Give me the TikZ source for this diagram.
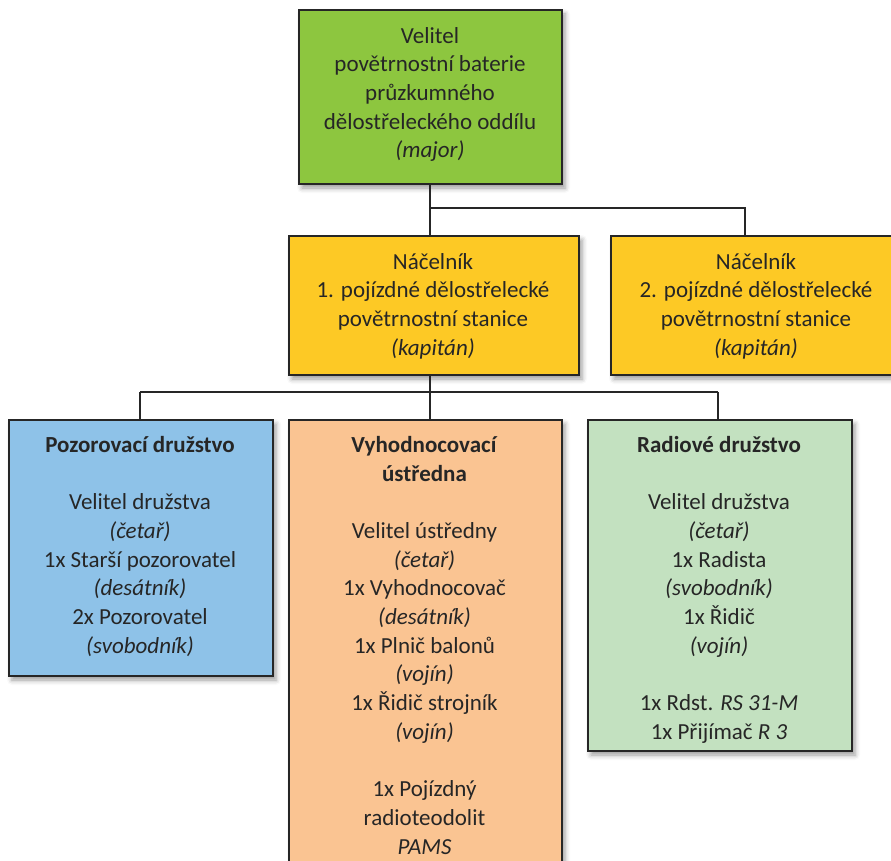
\documentclass[tikz,border=0pt]{standalone}
\usepackage{fontspec}
\setmainfont{Carlito}
\usetikzlibrary{shadows.blur}

\definecolor{ink}{HTML}{262626}
\definecolor{cmdgreen}{HTML}{8DC63F}
\definecolor{staffyellow}{HTML}{FDC925}
\definecolor{obsblue}{HTML}{8EC2E8}
\definecolor{evalpeach}{HTML}{FAC492}
\definecolor{radiogreen}{HTML}{C3E1C0}

\begin{document}
\begin{tikzpicture}[x=1pt,y=-1pt,
  unitbox/.style={draw=ink, line width=2pt, rectangle, inner sep=0pt,
    anchor=north west,
    blur shadow={shadow xshift=3pt, shadow yshift=-4pt,
      shadow blur radius=5pt, shadow opacity=40}},
  boxtext/.style={anchor=north, align=center, text=ink, inner sep=0pt,
    font=\fontsize{23}{28.7}\selectfont, execute at begin node=\strut},
  wire/.style={draw=ink, line width=1.8pt}]
\useasboundingbox (0,0) rectangle (891,861);

% junction points of the connector tree
\coordinate (j1) at (430,208);
\coordinate (j1r) at (745,208);
\coordinate (j2) at (430,392);
\coordinate (j2l) at (140,392);
\coordinate (j2r) at (718,392);

% boxes
\node[unitbox, fill=cmdgreen, minimum width=263pt, minimum height=174pt] (cmd) at (298,9) {};
\node[unitbox, fill=staffyellow, minimum width=290pt, minimum height=139pt] (st1) at (288,235) {};
\node[unitbox, fill=staffyellow, minimum width=290pt, minimum height=139pt] (st2) at (610,235) {};
\node[unitbox, fill=obsblue, minimum width=264pt, minimum height=256pt] (obs) at (8,419) {};
\node[unitbox, fill=evalpeach, minimum width=273pt, minimum height=470pt] (eval) at (288,419) {};
\node[unitbox, fill=radiogreen, minimum width=264pt, minimum height=331pt] (radio) at (587,419) {};

% connectors
\draw[wire] (cmd.south -| j1) -- (st1.north -| j1);
\draw[wire] (j1) -- (j1r) -- (st2.north -| j1r);
\draw[wire] (st1.south -| j2) -- (eval.north -| j2);
\draw[wire] (j2l) -- (j2r);
\draw[wire] (j2l) -- (obs.north -| j2l);
\draw[wire] (j2r) -- (radio.north -| j2r);

% texts
\node[boxtext] (cmdt) at (430,27) {Velitel\\povětrnostní baterie\\průzkumného\\dělostřeleckého oddílu\\\textit{(major)}};
\node[boxtext] (st1t) at (433,253) {Náčelník\\1. pojízdné dělostřelecké\\povětrnostní stanice\\\textit{(kapitán)}};
\node[boxtext] (st2t) at (756,253) {Náčelník\\2. pojízdné dělostřelecké\\povětrnostní stanice\\\textit{(kapitán)}};
\node[boxtext] (obst) at (140,436) {\textbf{Pozorovací družstvo}\\~\\Velitel družstva\\\textit{(četař)}\\1x Starší pozorovatel\\\textit{(desátník)}\\2x Pozorovatel\\\textit{(svobodník)}};
\node[boxtext] (evalt) at (424.5,436) {\textbf{Vyhodnocovací}\\\textbf{ústředna}\\~\\Velitel ústředny\\\textit{(četař)}\\1x Vyhodnocovač\\\textit{(desátník)}\\1x Plnič balonů\\\textit{(vojín)}\\1x Řidič strojník\\\textit{(vojín)}\\~\\1x Pojízdný\\radioteodolit\\\textit{PAMS}};
\node[boxtext] (radiot) at (719,436) {\textbf{Radiové družstvo}\\~\\Velitel družstva\\\textit{(četař)}\\1x Radista\\\textit{(svobodník)}\\1x Řidič\\\textit{(vojín)}\\~\\1x Rdst. \textit{RS 31-M}\\1x Přijímač \textit{R 3}};
\end{tikzpicture}
\end{document}
